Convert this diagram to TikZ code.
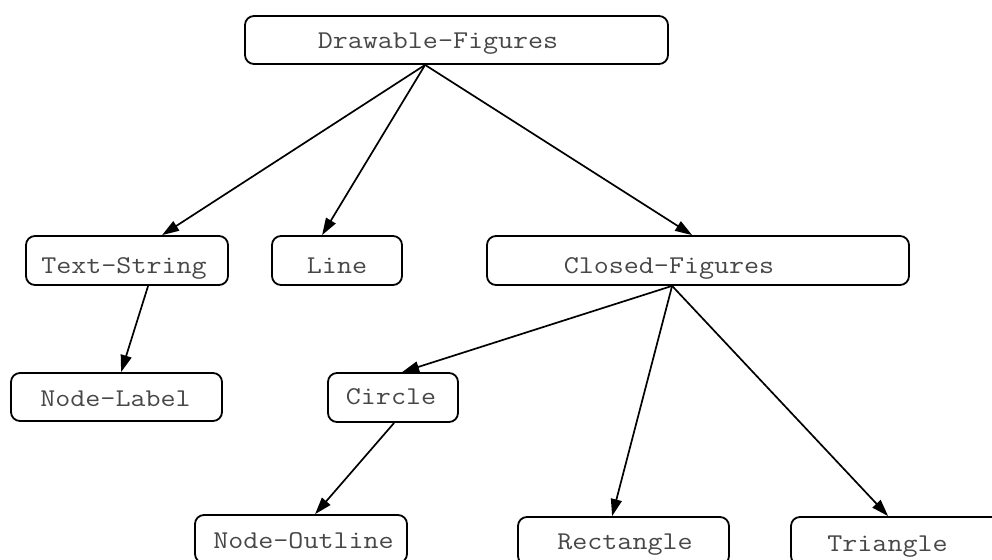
\documentclass[tikz,border=0pt]{standalone}
\usepackage{fontspec}
\newfontfamily\monofam[FakeStretch=1.14]{Latin Modern Mono}
\usetikzlibrary{arrows.meta}
\begin{document}
\begin{tikzpicture}[x=1pt,y=-1pt,
  box/.style={draw=black, line width=1.8pt, rounded corners=9pt, inner sep=0pt},
  lbl/.style={anchor=base, inner sep=0pt, text=black!72, font=\monofam\fontsize{25.6}{30}\selectfont},
  arr/.style={line width=1.7pt, -{Triangle[length=17pt,width=11pt]}}]
\useasboundingbox (0,0) rectangle (992,559);
\clip (0,0) rectangle (992,559);
% boxes
\node[box, minimum width=423pt, minimum height=48pt] (df) at (456.5,40) {};
\node[box, minimum width=202pt, minimum height=49pt] (ts) at (127,260.5) {};
\node[box, minimum width=130pt, minimum height=49pt] (ln) at (337,260.5) {};
\node[box, minimum width=422pt, minimum height=49pt] (cf) at (698,260.5) {};
\node[box, minimum width=211pt, minimum height=48pt] (nl) at (116.5,397) {};
\node[box, minimum width=130pt, minimum height=49pt] (ci) at (393,397.5) {};
\node[box, minimum width=212pt, minimum height=48pt] (no) at (301,539) {};
\node[box, minimum width=211pt, minimum height=48pt] (re) at (623.5,541) {};
\node[box, minimum width=216pt, minimum height=48pt] (tr) at (899,541) {};
% texts
\node[lbl] (dft) at (438,49) {Drawable-Figures};
\node[lbl] (tst) at (124,273) {Text-String};
\node[lbl] (lnt) at (337,273) {Line};
\node[lbl] (cft) at (669,273) {Closed-Figures};
\node[lbl] (nlt) at (115.5,406) {Node-Label};
\node[lbl] (cit) at (391,404) {Circle};
\node[lbl] (not) at (303.5,548) {Node-Outline};
\node[lbl] (ret) at (625,549) {Rectangle};
\node[lbl] (trt) at (887.5,551) {Triangle};
% connector points
\coordinate (dfb) at ([xshift=181pt]df.south west);
\coordinate (tsb) at ([xshift=123pt]ts.south west);
\coordinate (cfb) at ([xshift=186pt]cf.south west);
\coordinate (cib) at ([xshift=67pt]ci.south west);
\draw[arr] (dfb) -- ([xshift=137pt]ts.north west);
\draw[arr] (dfb) -- ([xshift=51pt]ln.north west);
\draw[arr] (dfb) -- ([xshift=206pt]cf.north west);
\draw[arr] (tsb) -- ([xshift=111pt]nl.north west);
\draw[arr] (cfb) -- ([xshift=75pt]ci.north west);
\draw[arr] (cfb) -- ([xshift=95pt]re.north west);
\draw[arr] (cfb) -- ([xshift=98pt]tr.north west);
\draw[arr] (cib) -- ([xshift=121pt]no.north west);
\end{tikzpicture}
\end{document}
